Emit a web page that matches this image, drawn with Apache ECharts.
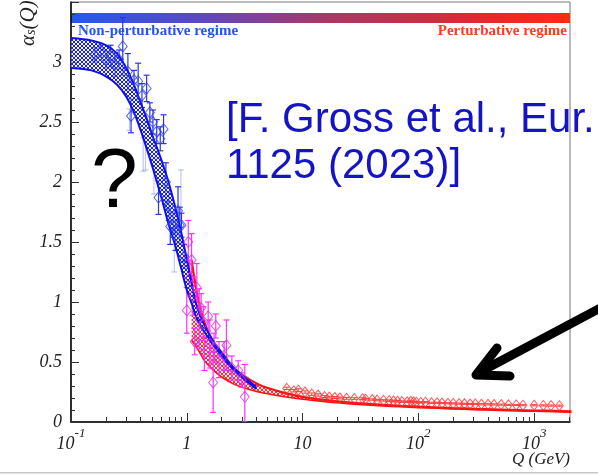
<!DOCTYPE html>
<html><head><meta charset="utf-8">
<script src="https://cdn.jsdelivr.net/npm/echarts@6/dist/echarts.min.js"></script>
<style>html,body{margin:0;padding:0;background:#fff}#c{width:598px;height:476px}</style>
</head><body><div id="c"></div>
<script>
// ---- data ----
const xMajorTicks = [0.1, 1, 10, 100, 1000];
const xMinorTicks = [0.2,0.3,0.4,0.5,0.6,0.7,0.8,0.9,2,3,4,5,6,7,8,9,20,30,40,50,60,70,80,90,200,300,400,500,600,700,800,900,2000];

const blueBandQ     = [0.1,0.15,0.2,0.25,0.3,0.35,0.4,0.45,0.5,0.6,0.7,0.8,0.9,1.0,1.1,1.2,1.4,1.7,2.0,2.5,3.0,3.5,4.0];
const blueBandUpper = [3.20,3.18,3.14,3.07,2.95,2.81,2.66,2.53,2.40,2.19,1.99,1.78,1.57,1.36,1.16,0.99,0.82,0.67,0.58,0.46,0.39,0.335,0.295];
const blueBandLower = [2.95,2.93,2.88,2.81,2.71,2.58,2.43,2.28,2.14,1.88,1.64,1.46,1.27,1.10,0.99,0.88,0.76,0.64,0.55,0.44,0.37,0.32,0.275];

const redBandQ     = [1.1,1.2,1.3,1.4,1.6,1.8,2.0,2.5,3,4,5,7,10,15,20,30,50,70,100,150,200,300,500,700,1000,1500,2100];
const redBandUpper = [1.35,1.12,0.96,0.85,0.71,0.62,0.555,0.455,0.395,0.322,0.283,0.243,0.21,0.186,0.172,0.157,0.143,0.135,0.128,0.121,0.116,0.11,0.104,0.1,0.096,0.092,0.088];
const redBandLower = [0.68,0.63,0.575,0.52,0.455,0.41,0.375,0.32,0.29,0.255,0.235,0.21,0.19,0.172,0.16,0.147,0.134,0.127,0.12,0.114,0.109,0.103,0.097,0.093,0.089,0.085,0.081];

// [Q, alpha, error]
const bluePoints = [
 [0.16,3.06,0.06],[0.18,3.09,0.05],[0.20,3.02,0.07],[0.22,3.05,0.09],[0.24,2.98,0.10],[0.26,3.02,0.08],
 [0.28,3.13,0.24],[0.31,2.92,0.15],[0.33,2.55,0.14],[0.35,2.85,0.08],[0.38,2.84,0.15],[0.41,2.72,0.10],
 [0.45,2.78,0.11],[0.48,2.58,0.08],[0.51,2.50,0.10],[0.55,2.42,0.10],[0.57,1.87,0.14],[0.59,2.36,0.10],
 [0.63,2.44,0.12],[0.66,2.00,0.16],[0.70,1.80,0.12],[0.72,1.63,0.15],[0.76,1.64,0.10],[0.80,1.55,0.12],
 [0.84,1.76,0.20],[0.87,1.64,0.15],[0.90,1.64,0.10],[0.95,1.38,0.10]
];
const lightBluePoints = [
 [0.32,2.52,0.09],[0.42,2.23,0.14],[0.44,2.30,0.20],[0.52,2.05,0.15],[0.78,1.50,0.25],[0.89,1.86,0.24]
];
const magentaPoints = [
 [1.00,0.93,0.19],[1.03,1.50,0.18],[1.06,1.20,0.15],[1.10,1.35,0.22],[1.13,1.05,0.16],[1.17,0.67,0.11],
 [1.22,1.12,0.20],[1.28,0.86,0.25],[1.33,0.95,0.12],[1.39,0.82,0.14],[1.42,0.57,0.14],[1.53,0.88,0.12],
 [1.58,0.65,0.20],[1.69,0.33,0.25],[1.72,0.62,0.12],[1.78,0.80,0.10],[1.90,0.52,0.15],[2.10,0.55,0.12],
 [2.20,0.64,0.21],[2.45,0.45,0.10],[2.78,0.43,0.08],[2.98,0.35,0.06],[3.17,0.21,0.27]
];
const redPoints = [
 [7.3,0.28,0.01],[8.4,0.26,0.01],[9.2,0.265,0.012],[10.5,0.25,0.01],[12,0.232,0.01],[13.6,0.225,0.01],
 [15.5,0.212,0.008],[17,0.207,0.008],[19,0.204,0.008],[21,0.2,0.008],[24,0.197,0.008],[28,0.195,0.007],
 [33,0.195,0.007],[35,0.19,0.007],[40,0.187,0.006],[44,0.183,0.006],[50,0.18,0.006],[56,0.178,0.006],
 [61,0.175,0.006],[66,0.173,0.006],[72,0.17,0.006],[80,0.168,0.005],[86,0.172,0.005],[91,0.168,0.005],
 [96,0.165,0.005],[105,0.163,0.005],[115,0.165,0.005],[130,0.16,0.005],[145,0.16,0.005],[160,0.158,0.005],
 [180,0.156,0.005],[200,0.155,0.005],[225,0.153,0.005],[250,0.152,0.005],[280,0.15,0.005],[310,0.15,0.005],
 [350,0.148,0.005],[400,0.147,0.005],[450,0.146,0.005],[520,0.145,0.005],[600,0.143,0.005],[700,0.142,0.005],
 [800,0.14,0.005],[1000,0.14,0.005],[1200,0.138,0.005],[1400,0.137,0.005],[1650,0.136,0.005]
];

// ---- helpers ----
function makeHatch(color, size, bg) {
  const c = document.createElement('canvas');
  c.width = c.height = size;
  const g = c.getContext('2d');
  if (bg) { g.fillStyle = bg; g.fillRect(0,0,size,size); }
  g.strokeStyle = color; g.lineWidth = 1;
  g.beginPath();
  g.moveTo(0,0); g.lineTo(size,size);
  g.moveTo(size,0); g.lineTo(0,size);
  g.stroke();
  return c;
}
const serif = '"Liberation Serif","DejaVu Serif",serif';
const sans = '"Liberation Sans",Arial,sans-serif';

function bandFill(name, Q, up, lo, pattern, z) {
  return {
    type: 'custom', name: name, silent: true, z: z, clip: true,
    data: [[Q[0], up[0]]],
    renderItem: function (params, api) {
      const pts = [];
      for (let i = 0; i < Q.length; i++) pts.push(api.coord([Q[i], up[i]]));
      for (let i = Q.length - 1; i >= 0; i--) pts.push(api.coord([Q[i], lo[i]]));
      return { type: 'polygon', shape: { points: pts }, style: { fill: { image: pattern, repeat: 'repeat' }, stroke: null } };
    }
  };
}
function edgeLine(Q, vals, color, width, z) {
  return { type: 'line', silent: true, z: z, smooth: 0.3, showSymbol: false, symbol: 'none',
    data: Q.map((q, i) => [q, vals[i]]), lineStyle: { color: color, width: width } };
}
function errorBars(points, color, width, z) {
  return {
    type: 'custom', silent: true, z: z, clip: true,
    data: points, encode: { x: 0, y: 1 },
    renderItem: function (params, api) {
      const q = api.value(0), a = api.value(1), e = api.value(2);
      const t = api.coord([q, a + e]);
      const b = api.coord([q, Math.max(a - e, 0.0001)]);
      const w = 3;
      return { type: 'group', children: [
        { type: 'line', shape: { x1: t[0], y1: t[1], x2: b[0], y2: b[1] }, style: { stroke: color, lineWidth: width } },
        { type: 'line', shape: { x1: t[0]-w, y1: t[1], x2: t[0]+w, y2: t[1] }, style: { stroke: color, lineWidth: width } },
        { type: 'line', shape: { x1: b[0]-w, y1: b[1], x2: b[0]+w, y2: b[1] }, style: { stroke: color, lineWidth: width } }
      ]};
    }
  };
}
function diamonds(points, color, z, size) {
  return { type: 'scatter', silent: true, z: z, symbol: 'diamond', symbolSize: size || [8, 10],
    data: points.map(p => [p[0], p[1]]),
    itemStyle: { color: 'rgba(255,255,255,0)', borderColor: color, borderWidth: 1 } };
}

const chart = echarts.init(document.getElementById('c'), null, { renderer: 'canvas' });
const labelColor = '#222';
const option = {
  animation: false,
  grid: { left: 71, right: 28, top: 2, bottom: 54, show: true, borderColor: '#777', borderWidth: 1, backgroundColor: 'rgba(0,0,0,0)' },
  xAxis: [
    { type: 'log', logBase: 10, min: 0.1, max: 2040, position: 'bottom',
      axisLine: { show: true, lineStyle: { color: '#000', width: 1.5 } },
      axisTick: { show: true, inside: true, length: 9, customValues: xMajorTicks, lineStyle: { color: '#333' } },
      axisLabel: { customValues: xMajorTicks, margin: 5, color: labelColor,
        formatter: function (v) {
          const e = Math.round(Math.log10(v));
          if (e === 0) return '{b|1}';
          if (e === 1) return '{b|10}';
          return '{b|10}{s|' + e + '}';
        },
        rich: {
          b: { fontFamily: serif, fontStyle: 'italic', fontSize: 18, color: labelColor, padding: [8, 0, 0, 0], verticalAlign: 'bottom' },
          s: { fontFamily: serif, fontStyle: 'italic', fontSize: 13, color: labelColor, verticalAlign: 'top' }
        } },
      splitLine: { show: false } },
    { type: 'log', logBase: 10, min: 0.1, max: 2040, position: 'bottom',
      axisLine: { show: false },
      axisTick: { show: true, inside: true, length: 5, customValues: xMinorTicks, lineStyle: { color: '#333' } },
      axisLabel: { show: false }, splitLine: { show: false } }
  ],
  yAxis: { type: 'value', min: 0, max: 3.5, interval: 0.5,
    axisLine: { show: true, lineStyle: { color: '#000', width: 1.5 } },
    axisTick: { show: true, inside: true, length: 8, lineStyle: { color: '#333' } },
    minorTick: { show: true, splitNumber: 5, length: 4, lineStyle: { color: '#333' } },
    axisLabel: { margin: 9, color: labelColor, fontFamily: serif, fontStyle: 'italic', fontSize: 18,
      formatter: v => (v > 3.4 ? '' : String(v)) },
    splitLine: { show: false } },
  series: [
    bandFill('red band', redBandQ, redBandUpper, redBandLower, makeHatch('#ff3030', 4, 'rgba(255,235,235,0.6)'), 2),
    edgeLine(redBandQ, redBandUpper, '#ff1010', 2.2, 3),
    edgeLine(redBandQ, redBandLower, '#ff1010', 1.6, 3),
    errorBars(lightBluePoints, 'rgba(120,130,240,0.45)', 1.2, 4),
    errorBars(bluePoints, '#2a35e0', 1.2, 5),
    errorBars(magentaPoints, '#ff30ff', 1.2, 5),
    errorBars(redPoints, '#ff4040', 1, 5),
    bandFill('blue band', blueBandQ, blueBandUpper, blueBandLower, makeHatch('#1a24e0', 4, 'rgba(235,235,255,0.5)'), 6),
    edgeLine(blueBandQ, blueBandUpper, '#1010ee', 2, 7),
    edgeLine(blueBandQ, blueBandLower, '#1010ee', 2, 7),
    diamonds(bluePoints, '#3040ee', 8, [9, 11]),
    diamonds(magentaPoints, '#e030e0', 8, [9, 11]),
    diamonds(redPoints, '#ff3030', 8, [8, 10])
  ],
  graphic: [
    { type: 'rect', shape: { x: 71, y: 13, width: 499, height: 10 }, silent: true,
      style: { fill: new echarts.graphic.LinearGradient(0, 0, 1, 0, [
        { offset: 0, color: '#2458f0' }, { offset: 0.25, color: '#5a48c8' },
        { offset: 0.5, color: '#a83868' }, { offset: 0.75, color: '#d02c3c' }, { offset: 1, color: '#ff2a10' }]) } },
    { type: 'text', x: 78, y: 39, silent: true,
      style: { text: 'Non-perturbative regime', font: 'bold 15px ' + serif, fill: '#2255ee', textVerticalAlign: 'bottom' } },
    { type: 'text', x: 567, y: 39, silent: true,
      style: { text: 'Perturbative regime', font: 'bold 15px ' + serif, fill: '#ff3a20', textAlign: 'right', textVerticalAlign: 'bottom' } },
    { type: 'text', x: 28, y: 46, rotation: Math.PI / 2, silent: true,
      style: { text: '{a|α}{s|s}{a|(Q)}', textAlign: 'left', textVerticalAlign: 'middle',
        rich: { a: { fontFamily: serif, fontStyle: 'italic', fontSize: 21, fill: labelColor, verticalAlign: 'top' },
                s: { fontFamily: serif, fontStyle: 'italic', fontSize: 14, fill: labelColor, verticalAlign: 'bottom' } } } },
    { type: 'text', x: 570, y: 468, silent: true,
      style: { text: 'Q (GeV)', font: 'italic 17px ' + serif, fill: labelColor, textAlign: 'right', textVerticalAlign: 'bottom' } },
    { type: 'text', x: 226, y: 141, silent: true,
      style: { text: '[F. Gross et al., Eur.', font: '42px ' + sans, fill: '#1414c4', textVerticalAlign: 'bottom' } },
    { type: 'text', x: 226, y: 187, silent: true,
      style: { text: '1125 (2023)]', font: '42px ' + sans, fill: '#1414c4', textVerticalAlign: 'bottom' } },
    { type: 'text', x: 91, y: 226, silent: true,
      style: { text: '?', font: '84px ' + sans, fill: '#000', textVerticalAlign: 'bottom' } },
    { type: 'polyline', silent: true, shape: { points: [[606, 305], [480, 372]] },
      style: { stroke: '#000', lineWidth: 9, lineCap: 'round', fill: null } },
    { type: 'polyline', silent: true, shape: { points: [[497, 348], [476, 375], [510, 376]] },
      style: { stroke: '#000', lineWidth: 9, lineCap: 'round', lineJoin: 'round', fill: null } },
    { type: 'rect', silent: true, shape: { x: 0, y: 472, width: 598, height: 1.5 }, style: { fill: '#c8c8c8' } }
  ]
};
chart.setOption(option);
</script>
</body></html>
